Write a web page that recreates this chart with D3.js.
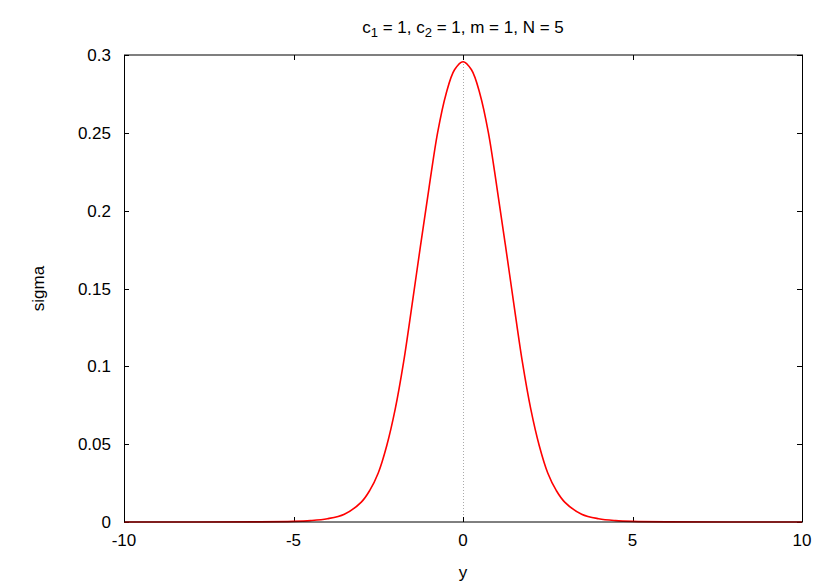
<!DOCTYPE html>
<html>
<head>
<meta charset="utf-8">
<script src="https://cdn.jsdelivr.net/npm/d3@7"></script>
<style>
  body { margin: 0; background: #fff; }
  text { font-family: "Liberation Sans", Arial, sans-serif; fill: #000; }
</style>
</head>
<body>
<div id="chart"></div>
<script>
// Werte (symmetrisch um y = 0)
const yWerte = [-10, -6, -5, -4.5, -4, -3.5, -3, -2.75, -2.5, -2.25, -2, -1.75, -1.5, -1.25, -1, -0.75, -0.5, -0.25,
    0, 0.25, 0.5, 0.75, 1, 1.25, 1.5, 1.75, 2, 2.25, 2.5, 2.75, 3, 3.5, 4, 4.5, 5, 6, 10];
const sigmaWerte = [0, 0.0001, 0.0004, 0.0009, 0.0021, 0.0050, 0.0128, 0.0203, 0.0315, 0.049, 0.0725, 0.103, 0.140, 0.178, 0.215, 0.250, 0.275, 0.2905,
    0.2957, 0.2905, 0.275, 0.250, 0.215, 0.178, 0.140, 0.103, 0.0725, 0.049, 0.0315, 0.0203, 0.0128, 0.0050, 0.0021, 0.0009, 0.0004, 0.0001, 0];
const xTicks = [-10, -5, 0, 5, 10];
const yTicks = [0, 0.05, 0.1, 0.15, 0.2, 0.25, 0.3];

const width = 830, height = 581;
const margin = { top: 55, right: 28, bottom: 59, left: 124 };

const svg = d3.select("#chart").append("svg")
    .attr("width", width)
    .attr("height", height);

const x = d3.scaleLinear().domain([-10, 10]).range([margin.left, width - margin.right]);
const y = d3.scaleLinear().domain([0, 0.3]).range([height - margin.bottom, margin.top]);

const tickLen = 5;

// Nullachse (gepunktet)
svg.append("line")
    .attr("x1", Math.round(x(0)) + 0.5).attr("x2", Math.round(x(0)) + 0.5)
    .attr("y1", y(0.3)).attr("y2", y(0))
    .attr("stroke", "#aaa")
    .attr("stroke-width", 1)
    .attr("stroke-dasharray", "1,2");

// Ticks innen, gespiegelt
const tg = svg.append("g").attr("stroke", "#000").attr("stroke-width", 1);
xTicks.forEach(t => {
    const px = Math.round(x(t)) + 0.5;
    tg.append("line").attr("x1", px).attr("x2", px).attr("y1", y(0)).attr("y2", y(0) - tickLen);
    tg.append("line").attr("x1", px).attr("x2", px).attr("y1", y(0.3)).attr("y2", y(0.3) + tickLen);
});
yTicks.forEach(t => {
    const py = Math.round(y(t)) + 0.5;
    tg.append("line").attr("x1", x(-10)).attr("x2", x(-10) + tickLen).attr("y1", py).attr("y2", py);
    tg.append("line").attr("x1", x(10)).attr("x2", x(10) - tickLen).attr("y1", py).attr("y2", py);
});

// Kurve
const daten = yWerte.map((v, i) => ({ x: v, s: sigmaWerte[i] }));
const linie = d3.line()
    .x(d => x(d.x))
    .y(d => y(d.s))
    .curve(d3.curveCatmullRom.alpha(0.5));

svg.append("path")
    .datum(daten)
    .attr("d", linie)
    .attr("fill", "none")
    .attr("stroke", "#ff0000")
    .attr("stroke-width", 1.6);

// Rahmen
svg.append("rect")
    .attr("x", x(-10) + 0.5)
    .attr("y", y(0.3))
    .attr("width", x(10) - x(-10))
    .attr("height", y(0) - y(0.3))
    .attr("fill", "none")
    .attr("stroke", "#000")
    .attr("stroke-width", 1);

// Beschriftung
svg.selectAll(".xl")
    .data(xTicks)
    .join("text")
    .attr("x", d => x(d))
    .attr("y", 546)
    .attr("text-anchor", "middle")
    .attr("font-size", "17px")
    .text(d => d);

svg.selectAll(".yl")
    .data(yTicks)
    .join("text")
    .attr("x", 111)
    .attr("y", d => y(d) + 6)
    .attr("text-anchor", "end")
    .attr("font-size", "17px")
    .text(d => d);

svg.append("text")
    .attr("x", x(0))
    .attr("y", 578)
    .attr("text-anchor", "middle")
    .attr("font-size", "17px")
    .text("y");

svg.append("text")
    .attr("transform", `translate(44, ${(y(0) + y(0.3)) / 2}) rotate(-90)`)
    .attr("text-anchor", "middle")
    .attr("font-size", "17px")
    .text("sigma");

const titel = svg.append("text")
    .attr("x", x(0))
    .attr("y", 33)
    .attr("text-anchor", "middle")
    .attr("font-size", "17px");
titel.append("tspan").text("c");
titel.append("tspan").attr("dy", 4).attr("font-size", "13px").text("1");
titel.append("tspan").attr("dy", -4).text(" = 1, c");
titel.append("tspan").attr("dy", 4).attr("font-size", "13px").text("2");
titel.append("tspan").attr("dy", -4).text(" = 1, m = 1, N = 5");
</script>
</body>
</html>
